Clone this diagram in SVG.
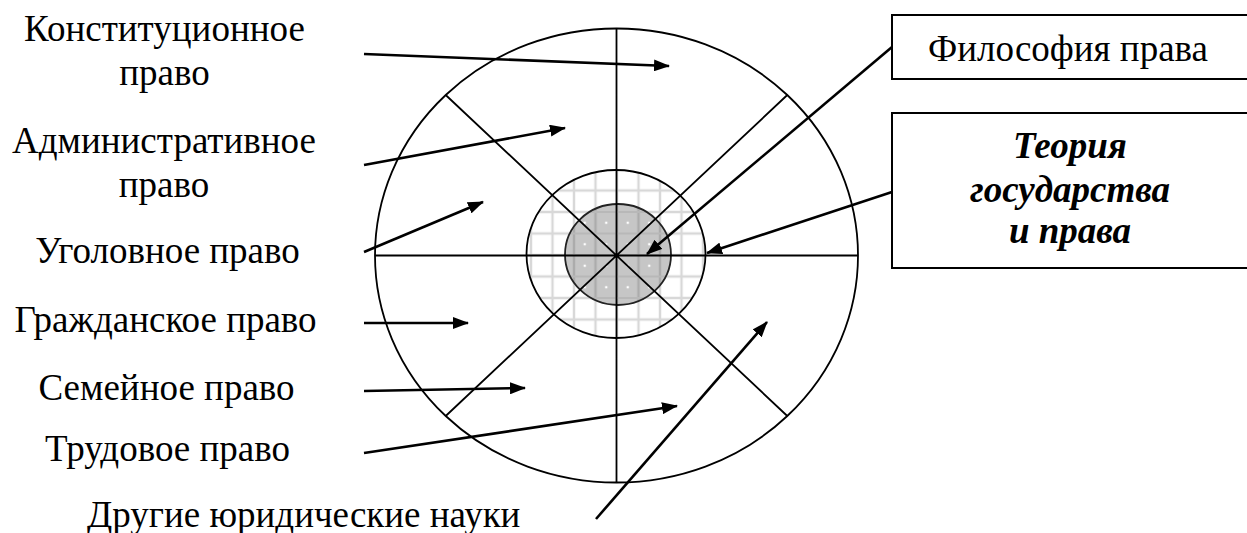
<svg xmlns="http://www.w3.org/2000/svg" width="1247" height="533" viewBox="0 0 1247 533">
<style>
text{font-family:"Liberation Serif","Times New Roman",serif;font-size:37px;fill:#000}
.c{text-anchor:middle}
.bi{font-weight:bold;font-style:italic}
.ln{stroke:#000;stroke-width:1.8;fill:none}
.ar{stroke:#000;stroke-width:2.6;fill:none;marker-end:url(#ah)}
.box{fill:#fff;stroke:#000;stroke-width:2}
</style>
<defs>
<marker id="ah" viewBox="0 0 16 12" refX="15" refY="6" markerWidth="16" markerHeight="12" markerUnits="userSpaceOnUse" orient="auto">
<path d="M0 0L16 6L0 12z" fill="#000"/>
</marker>
<pattern id="grid" x="606.25" y="244.25" width="21.5" height="21.5" patternUnits="userSpaceOnUse">
<rect width="21.5" height="21.5" fill="#fff"/>
<path d="M10.75 0V21.5M0 10.75H21.5" stroke="#d8d8d8" stroke-width="2.4"/>
</pattern>
<pattern id="grid2" x="606.25" y="244.25" width="21.5" height="21.5" patternUnits="userSpaceOnUse">
<rect width="21.5" height="21.5" fill="#c6c6c6"/>
<path d="M10.75 0V21.5" stroke="#acacac" stroke-width="2.4"/>
<path d="M0 10.75H21.5" stroke="#b8b8b8" stroke-width="2"/>
<circle cx="0" cy="0" r="1.3" fill="#fff"/><circle cx="21.5" cy="0" r="1.3" fill="#fff"/>
<circle cx="0" cy="21.5" r="1.3" fill="#fff"/><circle cx="21.5" cy="21.5" r="1.3" fill="#fff"/>
</pattern>
</defs>
<rect width="1247" height="533" fill="#fff"/>

<g id="disc">
<ellipse cx="616.5" cy="255.5" rx="241.5" ry="227" class="ln" fill="#fff"/>
<ellipse cx="616" cy="254" rx="89.5" ry="84" fill="url(#grid)" stroke="#000" stroke-width="1.8"/>
<ellipse cx="618" cy="254.5" rx="53" ry="50.5" fill="url(#grid2)" stroke="#222" stroke-width="1.8"/>
<path class="ln" d="M616.5 28.5V482.5M375 255.5H858M445.7 95L787.3 416M445.7 416L787.3 95"/>
</g>

<g id="labels-left">
<text class="c" x="164.5" y="41">Конституционное</text>
<text class="c" x="164.5" y="85">право</text>
<text class="c" x="164" y="153">Административное</text>
<text class="c" x="164" y="197">право</text>
<text class="c" x="167.5" y="263">Уголовное право</text>
<text class="c" x="165.5" y="332">Гражданское право</text>
<text class="c" x="166.5" y="400">Семейное право</text>
<text class="c" x="167.5" y="461">Трудовое право</text>
<text x="87" y="527">Другие юридические науки</text>
</g>

<g id="box-philosophy">
<rect class="box" x="892" y="15" width="400" height="64"/>
<text class="c" x="1068" y="61">Философия права</text>
</g>

<g id="box-theory">
<rect class="box" x="892" y="113" width="400" height="155"/>
<text class="c bi" x="1070" y="158">Теория</text>
<text class="c bi" x="1070" y="201.5">государства</text>
<text class="c bi" x="1070" y="243">и права</text>
</g>

<g id="connectors">
<line class="ar" x1="364" y1="54" x2="669" y2="66"/>
<line class="ar" x1="364" y1="165" x2="565" y2="128"/>
<line class="ar" x1="364" y1="252" x2="483" y2="202"/>
<line class="ar" x1="364" y1="323" x2="468" y2="323"/>
<line class="ar" x1="364" y1="391" x2="525" y2="388"/>
<line class="ar" x1="364" y1="453" x2="677" y2="406"/>
<line class="ar" x1="596" y1="519" x2="767" y2="322"/>
<line class="ar" x1="892" y1="47" x2="647" y2="254"/>
<line class="ar" x1="892" y1="192" x2="707" y2="253"/>
</g>
</svg>
